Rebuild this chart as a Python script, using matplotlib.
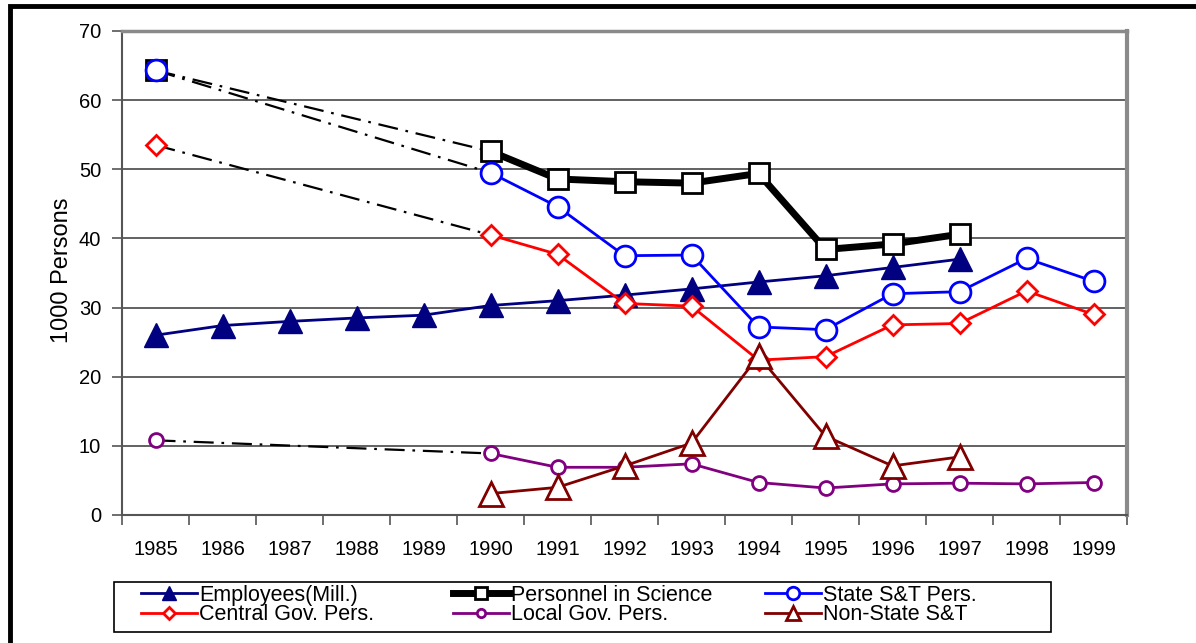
import numpy as np
import matplotlib.pyplot as plt
from matplotlib.lines import Line2D
from matplotlib.patches import Rectangle

plt.rcParams['font.family'] = ['Liberation Sans', 'DejaVu Sans']

years = list(range(1985, 2000))

# valores (1000 pessoas); None = sem dado
employees = [26.0, 27.4, 28.0, 28.5, 28.9, 30.3, 31.0, 31.8, 32.7, 33.7, 34.6, 35.8, 37.0, None, None]
personnel = [64.3, None, None, None, None, 52.6, 48.6, 48.2, 48.0, 49.4, 38.4, 39.2, 40.6, None, None]
state_st = [64.3, None, None, None, None, 49.5, 44.6, 37.5, 37.6, 27.2, 26.8, 32.0, 32.3, 37.1, 33.8]
central_gov = [53.5, None, None, None, None, 40.5, 37.7, 30.6, 30.2, 22.4, 22.9, 27.5, 27.7, 32.4, 29.0]
local_gov = [10.8, None, None, None, None, 8.9, 6.9, 6.9, 7.4, 4.7, 3.9, 4.5, 4.6, 4.5, 4.7]
non_state = [None, None, None, None, None, 3.1, 4.0, 7.1, 10.4, 23.0, 11.4, 7.1, 8.4, None, None]

labels = ["Employees(Mill.)", "Personnel in Science", "State S&T Pers.",
          "Central Gov. Pers.", "Local Gov. Pers.", "Non-State S&T"]
yticks = [0, 10, 20, 30, 40, 50, 60, 70]


def arr(v):
    return np.array([np.nan if a is None else a for a in v], dtype=float)


fig = plt.figure(figsize=(11.96, 6.43), dpi=100)
ax = fig.add_axes([122/1196, 1 - 515/643, 1005/1196, 484/643])

x = np.array(years)

# linhas traço-ponto ligando 1985 a 1990
dashdot = (0, (9, 3.5, 1.2, 3.5))
for s in [personnel, state_st, central_gov, local_gov]:
    ax.plot([years[0], years[5]], [s[0], s[5]], color='black', lw=1.6,
            linestyle=dashdot, zorder=2)

styles = [
    (employees, dict(color='#000080', lw=2, marker='^', ms=17, mfc='#000080', mec='#000080')),
    (personnel, dict(color='black', lw=5, marker='s', ms=15, mfc='white', mec='black', mew=2)),
    (state_st, dict(color='#0000FF', lw=2, marker='o', ms=15, mfc='white', mec='#0000FF', mew=2)),
    (central_gov, dict(color='#FF0000', lw=2, marker='D', ms=10, mfc='white', mec='#FF0000', mew=2)),
    (local_gov, dict(color='#800080', lw=2, marker='o', ms=10, mfc='white', mec='#800080', mew=2)),
    (non_state, dict(color='#800000', lw=2, marker='^', ms=17, mfc='white', mec='#800000', mew=2)),
]

handles = []
for i, (s, kw) in enumerate(styles):
    ax.plot(x, arr(s), zorder=3 + i, clip_on=False, **kw)
    hkw = dict(kw)
    hkw['ms'] = kw['ms'] * 0.6
    handles.append(Line2D([], [], **hkw))

ax.set_xlim(1984.5, 1999.5)
ax.set_ylim(0, 70)
ax.set_yticks(yticks)
ax.set_xticks(years)
ax.set_xticks(np.arange(1984.5, 2000, 1), minor=True)
ax.tick_params(axis='x', which='major', length=0, pad=18, labelsize=14.5)
ax.tick_params(axis='x', which='minor', length=7, width=1.2, color='#555555', direction='out')
ax.tick_params(axis='y', length=7, width=1.2, color='#555555', pad=8, labelsize=14.5)
ax.grid(axis='y', color='#555555', lw=1.3)
ax.set_axisbelow(True)

for side, c, w in [('left', '#555555', 1.5), ('bottom', '#555555', 1.5),
                   ('top', '#8a8a8a', 2.5), ('right', '#8a8a8a', 3)]:
    ax.spines[side].set_color(c)
    ax.spines[side].set_linewidth(w)

fig.text(62/1196, 1 - 270/643, "1000 Persons", rotation=90, ha='center', va='center', fontsize=17)

# moldura externa (cortada à direita e embaixo)
fig.patches.append(Rectangle((10/1196, -0.2), 1.5, 1.2 - 6/643 + 0.0001,
                             transform=fig.transFigure, fill=False, ec='black', lw=3.5))

# caixa da legenda
fig.patches.append(Rectangle((114/1196, 1 - 632/643), (1051 - 114)/1196, 50/643,
                             transform=fig.transFigure, fill=False, ec='black', lw=1.2))

col_x = [141, 453, 765]
for c in range(3):
    fig.legend([handles[c], handles[c + 3]], [labels[c], labels[c + 3]],
               loc='upper left', bbox_to_anchor=(col_x[c]/1196, 1 - 585/643),
               frameon=False, fontsize=15.5, borderpad=0, borderaxespad=0,
               handlelength=2.6, handletextpad=0.1, labelspacing=-0.08)

fig.savefig('out.png', dpi=100)
